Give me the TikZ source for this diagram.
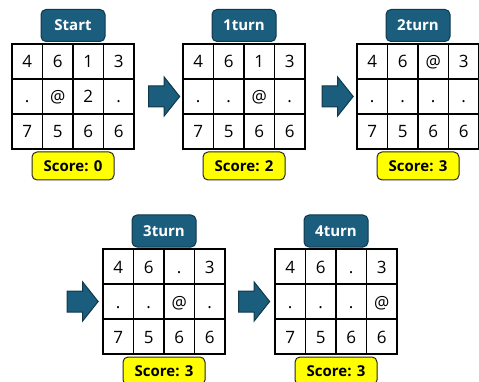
\documentclass[tikz,border=0pt]{standalone}
\usepackage{fontspec}
\setmainfont{Open Sans}
\usetikzlibrary{shapes.arrows}
\definecolor{boxblue}{RGB}{27,93,124}
\definecolor{boxedge}{RGB}{16,56,76}
\definecolor{scoreyellow}{RGB}{255,255,0}

\begin{document}
\begin{tikzpicture}[x=1pt,y=-1pt,
 cell/.style={draw,line width=1.5pt,minimum width=30.5pt,minimum height=35pt,inner sep=0pt,text height=13pt,text depth=0pt,font=\fontsize{17}{20}\selectfont},
 turnlabel/.style={draw=boxedge,fill=boxblue,line width=1pt,rounded corners=5pt,minimum width=64pt,minimum height=32pt,inner sep=0pt,text=white,font=\fontsize{15}{18}\selectfont\bfseries},
 scorebox/.style={draw=black!85,fill=scoreyellow,line width=1pt,rounded corners=5pt,minimum width=82pt,minimum height=28pt,inner sep=0pt,font=\fontsize{15}{18}\selectfont\bfseries},
 flow/.style={single arrow,draw=boxedge,fill=boxblue,line width=1pt,inner xsep=0pt,inner ysep=10pt,minimum height=31pt,single arrow head extend=9pt,single arrow tip angle=103}]
\clip (0,0) rectangle (479,382);
% start board
\node[turnlabel] (t0) at (73,25.5) {Start};
\foreach \i/\c in {0/4,1/6,2/1,3/3} \node[cell] (s0\i) at ({27.25+30.5*\i},61.5) {\c};
\foreach \i/\c in {0/.,1/@,2/2,3/.} \node[cell] (s1\i) at ({27.25+30.5*\i},96.5) {\c};
\foreach \i/\c in {0/7,1/5,2/6,3/6} \node[cell] (s2\i) at ({27.25+30.5*\i},131.5) {\c};
\node[scorebox] (sc0) at (73,166) {Score: 0};
\node[flow] (f1) at (160,96.5) {};
% 1turn
\node[turnlabel] (t1) at (244,25.5) {1turn};
\foreach \i/\c in {0/4,1/6,2/1,3/3} \node[cell] (a0\i) at ({198.25+30.5*\i},61.5) {\c};
\foreach \i/\c in {0/.,1/.,2/@,3/.} \node[cell] (a1\i) at ({198.25+30.5*\i},96.5) {\c};
\foreach \i/\c in {0/7,1/5,2/6,3/6} \node[cell] (a2\i) at ({198.25+30.5*\i},131.5) {\c};
\node[scorebox] (sc1) at (244,166) {Score: 2};
\node[flow] (f2) at (333.5,96.5) {};
% 2turn
\node[turnlabel] (t2) at (418,25.5) {2turn};
\foreach \i/\c in {0/4,1/6,2/@,3/3} \node[cell] (b0\i) at ({372.25+30.5*\i},61.5) {\c};
\foreach \i/\c in {0/.,1/.,2/.,3/.} \node[cell] (b1\i) at ({372.25+30.5*\i},96.5) {\c};
\foreach \i/\c in {0/7,1/5,2/6,3/6} \node[cell] (b2\i) at ({372.25+30.5*\i},131.5) {\c};
\node[scorebox] (sc2) at (418,166) {Score: 3};
% 3turn
\node[flow] (f3) at (78.5,301.5) {};
\node[turnlabel] (t3) at (164,231) {3turn};
\foreach \i/\c in {0/4,1/6,2/.,3/3} \node[cell] (c0\i) at ({118.25+30.5*\i},266.5) {\c};
\foreach \i/\c in {0/.,1/.,2/@,3/.} \node[cell] (c1\i) at ({118.25+30.5*\i},301.5) {\c};
\foreach \i/\c in {0/7,1/5,2/6,3/6} \node[cell] (c2\i) at ({118.25+30.5*\i},336.5) {\c};
\node[scorebox] (sc3) at (164,371) {Score: 3};
\node[flow] (f4) at (250,301.5) {};
% 4turn
\node[turnlabel] (t4) at (336,231) {4turn};
\foreach \i/\c in {0/4,1/6,2/.,3/3} \node[cell] (d0\i) at ({290.25+30.5*\i},266.5) {\c};
\foreach \i/\c in {0/.,1/.,2/.,3/@} \node[cell] (d1\i) at ({290.25+30.5*\i},301.5) {\c};
\foreach \i/\c in {0/7,1/5,2/6,3/6} \node[cell] (d2\i) at ({290.25+30.5*\i},336.5) {\c};
\node[scorebox] (sc4) at (336,371) {Score: 3};
\end{tikzpicture}
\end{document}
